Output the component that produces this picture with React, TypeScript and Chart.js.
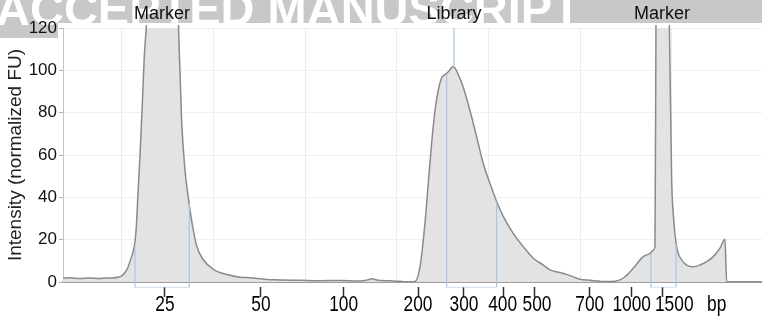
import React, { useEffect, useRef } from 'react';
import { Chart, registerables } from 'chart.js';

Chart.register(...registerables);

// Migration time (s) of each trace sample and its intensity (normalized FU)
const traceTimes = [
  13.6, 14.36, 15.45, 16.54, 17.63, 18.72, 19.6, 20.03, 20.36, 20.69, 21.01, 21.23, 21.45, 21.61, 21.78,
  22.0, 22.25, 22.46, 22.73, 22.87, 24.39, 25.92, 26.17, 26.54, 26.9, 27.26, 27.63, 28.18, 28.9, 29.99,
  31.45, 32.9, 33.99, 35.81, 37.26, 39.44, 41.62, 43.81, 45.99, 46.64, 47.3, 47.95, 49.26, 50.35, 51.44,
  51.98, 52.53, 53.08, 53.44, 53.81, 54.17, 54.53, 54.9, 55.26, 55.62, 56.16, 56.71, 57.25, 57.98, 58.71,
  59.43, 60.16, 60.89, 61.61, 62.7, 63.8, 64.89, 65.98, 66.71, 67.8, 68.89, 69.98, 71.07, 72.89, 73.79,
  74.34, 74.89, 75.79, 76.88, 77.61, 77.97, 78.16, 78.27, 78.92, 79.72, 79.98, 80.15, 80.52, 81.07, 81.61,
  82.33, 83.06, 83.8, 84.51, 85.25, 85.79, 85.98, 87.43, 89.83,
];
const traceValues = [
  1.8, 2.0, 1.6, 1.9, 1.7, 1.9, 2.2, 3, 4.5, 7, 11, 14, 19, 27, 42,
  60, 84, 106, 124, 140, 300, 150, 124, 76, 53, 40, 29, 17, 10.5, 6,
  3.5, 2.3, 2, 1.2, 1, 0.8, 0.6, 0.7, 0.5, 0.8, 1.5, 0.8, 0.6, 0.3, 0,
  0.2, 7, 28, 47, 66, 81, 90.7, 96.5, 98, 99.3, 101.8, 98, 92, 81, 68.6,
  56, 46.6, 38, 31, 23, 16.7, 11.2, 8, 5.7, 4.5, 3, 1.3, 0.8, 0.2, 0.4,
  1, 2.5, 6.5, 12, 13.5, 15, 17, 125, 420, 124, 48, 32.5, 16.7, 10.4, 8,
  7.2, 8, 9.6, 12, 16, 20.2, 0, 0, 0,
];

const bpLabels = ['25', '50', '100', '200', '300', '400', '500', '700', '1000', '1500', 'bp'];
const bpTimes = [24.72, 35.19, 44.21, 52.42, 57.33, 61.66, 65.07, 71.04, 75.62, 78.95, 84.89];
const gridTimes = [20, 30, 40, 50, 60, 70, 80];

const peakLabels = ['Marker', 'Library', 'Marker'];
const peakTimes = [24.39, 56.24, 78.92];

const regionStarts = [21.45, 55.44, 77.72];
const regionEnds = [27.37, 60.89, 80.45];
const regionStartHeights = [17, 98, 13.8];
const regionEndHeights = [37, 38, 18];
const regionBase = -2.5;

const libraryPeakTime = 56.24;
const libraryPeakValue = 101.5;

const timeMin = 13.6;
const timeMax = 89.83;
const yMin = 0;
const yMax = 120;
const yStep = 20;

const watermarkText = 'ACCEPTED MANUSCRIPT';

const FONT = "'Liberation Sans', Arial, Helvetica, sans-serif";

export default function App() {
  const canvasRef = useRef<HTMLCanvasElement | null>(null);

  useEffect(() => {
    const canvas = canvasRef.current;
    if (!canvas) return;

    const watermarkPlugin = {
      id: 'watermark',
      beforeDraw(chart: any) {
        const ctx = chart.ctx;
        ctx.save();
        ctx.fillStyle = '#c8c8c8';
        ctx.fillRect(0, 0, chart.width, 23);
        ctx.fillRect(0, 23, 58, 15);
        ctx.font = `bold 47px ${FONT}`;
        ctx.fillStyle = '#ffffff';
        ctx.textBaseline = 'alphabetic';
        ctx.textAlign = 'left';
        ctx.fillText(watermarkText, -4, 25);
        ctx.restore();
      },
    };

    // label nudges (px) so the bp labels sit where the instrument printed them
    const labelNudge = [0, 0, 0, -1, 0, -1, 2, 0, 0, 12, 0];

    const labelsPlugin = {
      id: 'labels',
      afterDraw(chart: any) {
        const ctx = chart.ctx;
        const xs = chart.scales.x;
        ctx.save();
        ctx.font = `18px ${FONT}`;
        ctx.fillStyle = '#111';
        ctx.textAlign = 'center';
        ctx.textBaseline = 'middle';
        peakLabels.forEach((label, i) => {
          ctx.fillText(label, xs.getPixelForValue(peakTimes[i]), 14);
        });
        ctx.font = `17px ${FONT}`;
        ctx.fillStyle = '#000';
        bpLabels.forEach((label, i) => {
          const px = xs.getPixelForValue(bpTimes[i]) + labelNudge[i];
          const py = xs.top + 23;
          ctx.save();
          ctx.translate(px, py);
          ctx.scale(1.02, 1.3);
          ctx.fillText(label, 0, 0);
          ctx.restore();
        });
        ctx.restore();
      },
    };

    const regionDatasets = regionStarts.map((s, i) => ({
      type: 'line' as const,
      data: [
        { x: s, y: regionStartHeights[i] },
        { x: s, y: regionBase },
        { x: regionEnds[i], y: regionBase },
        { x: regionEnds[i], y: regionEndHeights[i] },
      ],
      borderColor: '#a9c6df',
      borderWidth: 1.2,
      pointRadius: 0,
      fill: false,
      clip: false as any,
      order: 0,
      segment: {
        borderColor: (ctx: any) => (ctx.p0DataIndex === 1 ? 'rgba(169,198,223,0.45)' : '#a9c6df'),
      },
    }));

    const chart = new Chart(canvas, {
      type: 'line',
      data: {
        datasets: [
          {
            data: traceTimes.map((t, i) => ({ x: t, y: traceValues[i] })),
            borderColor: '#8a8a8a',
            borderWidth: 1.5,
            backgroundColor: '#e3e3e3',
            fill: 'origin',
            pointRadius: 0,
            cubicInterpolationMode: 'monotone',
            clip: { left: 0, right: 0, top: 3, bottom: 0 } as any,
            order: 1,
          },
          ...regionDatasets,
          {
            data: [
              { x: libraryPeakTime, y: libraryPeakValue },
              { x: libraryPeakTime, y: yMax },
            ],
            borderColor: '#a9c6df',
            borderWidth: 1.2,
            pointRadius: 0,
            fill: false,
            order: 0,
          },
        ] as any,
      },
      options: {
        responsive: false,
        animation: false,
        devicePixelRatio: 1,
        layout: { padding: { top: 28, left: 0, right: 0, bottom: 0 } },
        plugins: {
          legend: { display: false },
          tooltip: { enabled: false },
        },
        scales: {
          x: {
            type: 'linear',
            position: 'bottom',
            min: timeMin,
            max: timeMax,
            afterBuildTicks: (scale: any) => {
              scale.ticks = bpTimes.map((v) => ({ value: v }));
            },
            afterFit: (scale: any) => {
              scale.height = 36;
            },
            ticks: {
              display: false,
              autoSkip: false,
              maxRotation: 0,
              callback: (_v: any, i: number) => bpLabels[i],
            },
            grid: {
              drawOnChartArea: false,
              drawTicks: true,
              tickLength: 15,
              tickWidth: 1.5,
              tickBorderDash: [0, 4, 10, 40],
              tickColor: (ctx: any) => (ctx.index === bpLabels.length - 1 ? 'rgba(0,0,0,0)' : '#333'),
            },
            border: { display: true, color: '#9c9c9c', width: 2 },
          },
          xg: {
            type: 'linear',
            position: 'top',
            min: timeMin,
            max: timeMax,
            afterBuildTicks: (scale: any) => {
              scale.ticks = gridTimes.map((v) => ({ value: v }));
            },
            afterFit: (scale: any) => {
              scale.height = 0;
            },
            ticks: { display: false },
            grid: { color: '#ececec', lineWidth: 1, drawTicks: false },
            border: { display: false },
          },
          y: {
            type: 'linear',
            min: yMin,
            max: yMax,
            afterFit: (scale: any) => {
              scale.width = 63;
            },
            ticks: {
              stepSize: yStep,
              padding: 2,
              color: '#111',
              font: { size: 17, family: FONT },
            },
            grid: {
              color: '#efefef',
              tickColor: '#b0b0b0',
              tickLength: 4,
            },
            border: { display: true, color: '#c4c4c4', width: 1 },
            title: {
              display: true,
              text: 'Intensity (normalized FU)',
              color: '#222',
              font: { size: 19, family: FONT },
              padding: { top: 4, bottom: 0 },
            },
          },
        },
      } as any,
      plugins: [watermarkPlugin, labelsPlugin],
    });

    return () => {
      chart.destroy();
    };
  }, []);

  return (
    <div style={{ position: 'fixed', left: 0, top: 0, width: 762, height: 318, background: '#fff' }}>
      <canvas ref={canvasRef} width={762} height={318} style={{ display: 'block', width: 762, height: 318 }} />
    </div>
  );
}
